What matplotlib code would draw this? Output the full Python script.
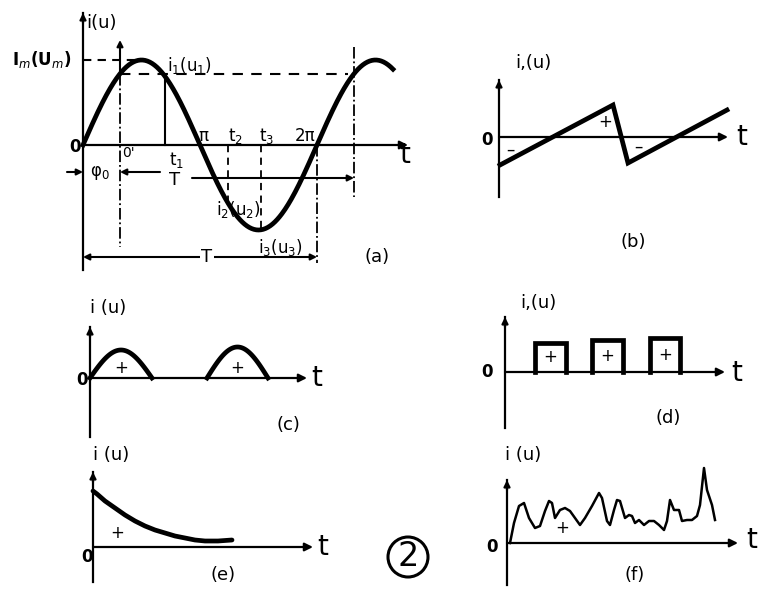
import numpy as np
import matplotlib
matplotlib.use('Agg')
import matplotlib.pyplot as plt

# ── Data (panel-local units, 1 unit = 1 px, origin = axis crossing) ─────────
# (a) sinusoid
SIN_AMP    = 85
SIN_PERIOD = 234
SIN_END    = 310
T_O        = 37      # O' (phase phi0)
T_1        = 82
T_2        = 145
T_3        = 178
A_LABELS   = ['π', 't$_2$', 't$_3$', '2π']
A_LABEL_X  = [120, 152, 184, 222]

# (b) sawtooth corner points
SAW_T = [1, 114, 129, 228]
SAW_V = [-28, 32, -26, 27]
SAW_SIGNS   = ['–', '+', '–']
SAW_SIGN_T  = [11, 106, 139]
SAW_SIGN_V  = [-13, 15, -10]

# (c) half-wave arches
ARCH_START  = [0, 117]
ARCH_END    = [62, 178]
ARCH_HEIGHT = [28, 31]

# (d) rectangular pulses
PULSE_START  = [30, 87, 145]
PULSE_END    = [61, 118, 175]
PULSE_HEIGHT = [29, 32, 34]

# (e) decaying current
DECAY_T = [0, 4, 12, 22, 32, 42, 52, 62, 72, 82, 92, 102, 112, 125, 139]
DECAY_V = [56, 53, 46, 39, 32, 26, 21, 17, 14, 11, 9, 7, 6, 6, 7]

# (f) irregular current
NOISE_T = [3, 7, 12, 17, 22, 28, 33, 38, 42, 45, 48, 53, 58, 63, 68, 73, 78,
           85, 92, 95, 100, 103, 107, 110, 113, 118, 122, 125, 128, 132, 137,
           142, 147, 152, 157, 160, 163, 167, 172, 175, 180, 185, 190, 193,
           197, 200, 205, 208]
NOISE_V = [0, 20, 37, 40, 25, 15, 17, 32, 42, 40, 25, 33, 35, 32, 25, 18, 25,
           37, 50, 45, 22, 18, 33, 43, 42, 25, 28, 27, 20, 23, 18, 22, 22, 18,
           13, 22, 43, 33, 33, 22, 23, 23, 27, 38, 75, 53, 38, 23]

W, H = 779, 609
fig = plt.figure(figsize=(W / 100, H / 100), dpi=100)
fig.patch.set_facecolor('white')

LW_CURVE = 3.4
LW_AXIS = 1.6
FS_T = 20
FS_LAB = 13
FS_SM = 12


def panel(ox, oy, left, right, up, down):
    ax = fig.add_axes([(ox - left) / W, 1 - (oy + down) / H,
                       (left + right) / W, (up + down) / H])
    ax.set_xlim(-left, right)
    ax.set_ylim(-down, up)
    ax.axis('off')
    return ax


def arrow(ax, x0, y0, x1, y1, lw=LW_AXIS, ms=12):
    ax.annotate('', xy=(x1, y1), xytext=(x0, y0),
                arrowprops=dict(arrowstyle='-|>', lw=lw, color='k',
                                mutation_scale=ms, shrinkA=0, shrinkB=0),
                annotation_clip=False)


def axes_pair(ax, ybot, ytop, tend, ylabel, ylx, yly, zx, zy, tx, ty):
    ax.plot([0, 0], [ybot, ytop], color='k', lw=LW_AXIS, clip_on=False)
    arrow(ax, 0, ytop - 10, 0, ytop, ms=9)
    arrow(ax, 0, 0, tend, 0)
    ax.text(ylx, yly, ylabel, fontsize=FS_LAB, ha='left', va='center')
    ax.text(zx, zy, '0', fontsize=FS_SM, ha='center', va='center',
            fontweight='bold')
    ax.text(tx, ty, 't', fontsize=FS_T, ha='center', va='center')


def sine(x):
    return SIN_AMP * np.sin(2 * np.pi * np.asarray(x) / SIN_PERIOD)


# ── (a) ─────────────────────────────────────────────────────────────────────
ax = panel(83, 145, 83, 340, 145, 140)
axes_pair(ax, -125, 132, 325, 'i(u)', 3, 122, -8, -2, 322, -10)
x = np.linspace(0, SIN_END, 400)
ax.plot(x, sine(x), color='k', lw=LW_CURVE, clip_on=False)

i1 = float(sine(T_O))
ax.plot([0, 52], [SIN_AMP, SIN_AMP], 'k--', lw=1.5, dashes=(4, 3))
ax.plot([T_O, T_O + SIN_PERIOD - 6], [i1, i1], 'k--', lw=1.5, dashes=(5, 4))
arrow(ax, T_O, i1, T_O, 105, lw=1.5, ms=9)
ax.plot([T_O, T_O], [i1, -102], 'k-.', lw=1.3)
ax.plot([T_1, T_1], [0, float(sine(T_1))], 'k-', lw=1.5)
ax.plot([T_2, T_2], [0, float(sine(T_2))], 'k--', lw=1.3, dashes=(4, 3))
ax.plot([T_3, T_3], [0, float(sine(T_3))], 'k--', lw=1.3, dashes=(4, 3))
ax.plot([SIN_PERIOD, SIN_PERIOD], [0, -118], 'k-.', lw=1.3)
ax.plot([T_O + SIN_PERIOD] * 2, [98, -52], 'k-.', lw=1.3)

# phi0 and T dimension arrows
arrow(ax, -16, -27, 0, -27, lw=1.5, ms=9)
arrow(ax, 77, -27, T_O, -27, lw=1.5, ms=9)
ax.text(17, -28, 'φ$_0$', fontsize=FS_SM, ha='center', va='center')
ax.text(92, -35, 'T', fontsize=FS_LAB, ha='center', va='center')
arrow(ax, 109, -33, T_O + SIN_PERIOD, -33, lw=1.5, ms=9)
ax.annotate('', xy=(0, -112), xytext=(SIN_PERIOD, -112),
            arrowprops=dict(arrowstyle='<|-|>', lw=1.5, color='k',
                            mutation_scale=9, shrinkA=0, shrinkB=0))
ax.text(124, -112, 'T', fontsize=FS_LAB, ha='center', va='center',
        bbox=dict(facecolor='white', edgecolor='none', pad=1))

ax.text(-12, SIN_AMP, 'I$_m$(U$_m$)', fontsize=FS_SM, ha='right',
        va='center', fontweight='bold')
ax.text(84, 80, 'i$_1$(u$_1$)', fontsize=FS_SM, ha='left', va='center')
ax.text(45, -8, "0'", fontsize=10, ha='center', va='center')
ax.text(94, -15, 't$_1$', fontsize=FS_SM, ha='center', va='center')
for lab, lx in zip(A_LABELS, A_LABEL_X):
    ax.text(lx, 9, lab, fontsize=FS_SM, ha='center', va='center')
ax.text(155, -65, 'i$_2$(u$_2$)', fontsize=FS_SM, ha='center', va='center')
ax.text(197, -103, 'i$_3$(u$_3$)', fontsize=FS_SM, ha='center', va='center')
ax.text(294, -112, '(a)', fontsize=FS_LAB, ha='center', va='center')

# ── (b) ─────────────────────────────────────────────────────────────────────
ax = panel(499, 137, 30, 260, 100, 120)
axes_pair(ax, -60, 57, 229, 'i,(u)', 16, 74, -12, -3, 243, 0)
ax.plot(SAW_T, SAW_V, color='k', lw=LW_CURVE, solid_joinstyle='miter')
for s, sx, sy in zip(SAW_SIGNS, SAW_SIGN_T, SAW_SIGN_V):
    ax.text(sx, sy, s, fontsize=FS_SM, ha='center', va='center')
ax.text(134, -105, '(b)', fontsize=FS_LAB, ha='center', va='center')

# ── (c) ─────────────────────────────────────────────────────────────────────
ax = panel(90, 378, 30, 250, 90, 70)
axes_pair(ax, -59, 51, 217, 'i (u)', 0, 70, -8, -2, 227, 0)
for a, b, h in zip(ARCH_START, ARCH_END, ARCH_HEIGHT):
    xs = np.linspace(a, b, 80)
    ax.plot(xs, h * np.sin(np.pi * (xs - a) / (b - a)), color='k',
            lw=LW_CURVE, clip_on=False)
    ax.text((a + b) / 2, 10, '+', fontsize=FS_SM, ha='center', va='center')
ax.text(198, -47, '(c)', fontsize=FS_LAB, ha='center', va='center')

# ── (d) ─────────────────────────────────────────────────────────────────────
ax = panel(505, 372, 30, 250, 90, 70)
axes_pair(ax, -56, 55, 220, 'i,(u)', 15, 69, -18, 0, 232, -1)
for a, b, h in zip(PULSE_START, PULSE_END, PULSE_HEIGHT):
    ax.plot([a, a, b, b], [0, h, h, 0], color='k', lw=LW_CURVE,
            solid_joinstyle='miter')
    ax.text((a + b) / 2, h / 2, '+', fontsize=FS_SM, ha='center', va='center')
ax.text(163, -46, '(d)', fontsize=FS_LAB, ha='center', va='center')

# ── (e) ─────────────────────────────────────────────────────────────────────
ax = panel(93, 547, 30, 360, 110, 55)
axes_pair(ax, -35, 75, 220, 'i (u)', 0, 92, -6, -10, 230, 0)
ax.plot(DECAY_T, DECAY_V, color='k', lw=LW_CURVE, solid_capstyle='round',
        solid_joinstyle='round')
ax.text(24, 14, '+', fontsize=FS_SM, ha='center', va='center')
ax.text(130, -28, '(e)', fontsize=FS_LAB, ha='center', va='center')
ax.add_patch(plt.Circle((315, -10), 20, fill=False, lw=2.2, color='k',
                        clip_on=False))
ax.text(315, -10, '2', fontsize=24, ha='center', va='center')

# ── (f) ─────────────────────────────────────────────────────────────────────
ax = panel(507, 543, 30, 265, 110, 60)
axes_pair(ax, -42, 63, 231, 'i (u)', -2, 88, -15, -4, 245, 3)
ax.plot(NOISE_T, NOISE_V, color='k', lw=1.8, solid_joinstyle='round')
ax.text(55, 15, '+', fontsize=FS_SM, ha='center', va='center')
ax.text(128, -32, '(f)', fontsize=FS_LAB, ha='center', va='center')

fig.savefig('out.png', dpi=100, facecolor='white')
